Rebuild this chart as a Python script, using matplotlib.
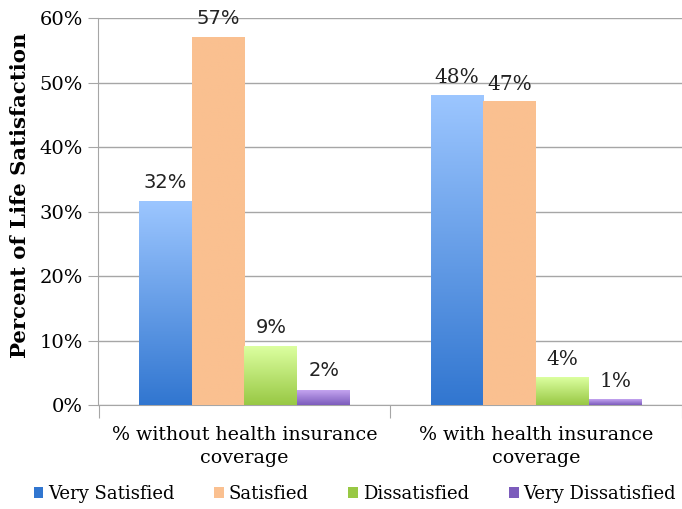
import matplotlib.pyplot as plt
import numpy as np
from matplotlib.colors import LinearSegmentedColormap
from matplotlib.patches import Patch

categories = ['% without health insurance\ncoverage', '% with health insurance\ncoverage']
series = ['Very Satisfied', 'Satisfied', 'Dissatisfied', 'Very Dissatisfied']
very_satisfied = [31.5, 48.0]
satisfied = [57.0, 47.0]
dissatisfied = [9.0, 4.3]
very_dissatisfied = [2.3, 0.9]
labels = [['32%', '48%'], ['57%', '47%'], ['9%', '4%'], ['2%', '1%']]

# (top colour, bottom colour) for each series
grads = [('#9cc6ff', '#3176d0'),
         ('#fac090', '#fac090'),
         ('#dcffa0', '#98c844'),
         ('#c4a4f0', '#7c5cbc')]

values = [very_satisfied, satisfied, dissatisfied, very_dissatisfied]

fig = plt.figure(figsize=(6.82, 5.09), dpi=100)
ax = fig.add_axes([0.1437, 0.2043, 0.8563, 0.7603])

bw = 0.181
x = np.arange(len(categories))
grad = np.linspace(1, 0, 256).reshape(-1, 1)

for i, vals in enumerate(values):
    cmap = LinearSegmentedColormap.from_list('g%d' % i, [grads[i][1], grads[i][0]])
    pos = x + (i - 1.5) * bw
    bars = ax.bar(pos, vals, bw, color='none', edgecolor='none', zorder=3)
    for j, b in enumerate(bars):
        h = b.get_height()
        ax.imshow(grad, cmap=cmap, extent=[b.get_x(), b.get_x() + bw, 0, h],
                  aspect='auto', zorder=3, vmin=0, vmax=1)
        if j == 0:
            ax.annotate(labels[i][j], (b.get_x() + bw / 2, h), xytext=(0, 7),
                        textcoords='offset points', ha='center', va='bottom',
                        fontsize=14, family='DejaVu Sans', color='#222222')
        else:
            ax.annotate(labels[i][j], (b.get_x() + bw / 2, h), xytext=(0, 6),
                        textcoords='offset points', ha='center', va='bottom',
                        fontsize=14.5, family='DejaVu Serif', color='#222222')

ax.set_xlim(-0.502, 1.478)
ax.set_ylim(0, 60)
ax.set_yticks(np.arange(0, 61, 10))
ax.set_yticklabels(['%d%%' % v for v in range(0, 61, 10)], family='DejaVu Serif', fontsize=14)
ax.yaxis.grid(True, color='#a6a6a6', linewidth=1)
ax.set_axisbelow(True)

# category boundaries as ticks, names as minor labels
ax.set_xticks([-0.5, 0.5, 1.5])
ax.set_xticklabels([])
ax.tick_params(axis='x', which='major', length=9, color='#a6a6a6')
ax.set_xticks(x, minor=True)
ax.set_xticklabels(categories, minor=True, family='DejaVu Serif', fontsize=13.7,
                   linespacing=1.4)
ax.tick_params(axis='x', which='minor', length=0, pad=15)
ax.tick_params(axis='y', length=7, color='#a6a6a6', pad=4)

for s in ['top', 'right']:
    ax.spines[s].set_visible(False)
for s in ['left', 'bottom']:
    ax.spines[s].set_color('#a6a6a6')

ax.set_ylabel('Percent of Life Satisfaction', family='DejaVu Serif',
              fontweight='bold', fontsize=15.3)
ax.yaxis.set_label_coords(-0.117, 0.543)

handles = [Patch(facecolor=grads[i][1] if i != 1 else grads[i][0], edgecolor='none')
           for i in range(4)]
fig.legend(handles, series, loc='center', bbox_to_anchor=(0.52, 0.03), ncol=4,
           frameon=False, handlelength=0.55, handleheight=0.55, handletextpad=0.25,
           columnspacing=2.2, prop={'family': 'DejaVu Serif', 'size': 13})

fig.savefig('out.png', dpi=100)
